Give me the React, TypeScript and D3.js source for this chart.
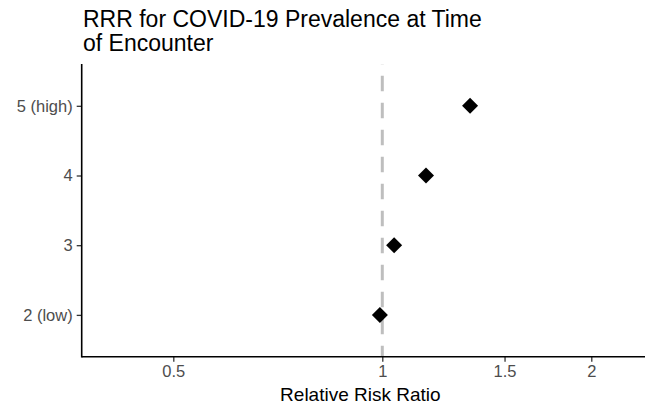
import React, { useEffect, useRef } from "react";
import * as d3 from "d3";

const levels = ["2 (low)", "3", "4", "5 (high)"];
const rrr = [0.992, 1.04, 1.156, 1.338];
const xTicks = [0.5, 1, 1.5, 2];
const titleLines = ["RRR for COVID-19 Prevalence at Time", "of Encounter"];

const W = 645;
const H = 405;
const FONT = "'Liberation Sans', Arial, sans-serif";

export default function App() {
  const ref = useRef<SVGSVGElement>(null);

  useEffect(() => {
    const svg = d3.select(ref.current);
    svg.selectAll("*").remove();

    const left = 81.7, right = 645, top = 64, bottom = 356.7;

    const x = d3.scaleLog().domain([0.369, 2.39]).range([left, right]);
    const y = d3.scalePoint<string>().domain(levels).range([bottom, top]).padding(0.6);

    // title
    const title = svg.append("text")
      .attr("x", 83)
      .attr("font-family", FONT)
      .attr("font-size", 23)
      .attr("fill", "#000");
    titleLines.forEach((t, i) => {
      title.append("tspan").attr("x", 83).attr("y", 27 + i * 24).text(t);
    });

    // reference line at 1
    svg.append("line")
      .attr("x1", x(1)).attr("x2", x(1))
      .attr("y1", bottom).attr("y2", top)
      .attr("stroke", "#bebebe")
      .attr("stroke-width", 3)
      .attr("stroke-dasharray", "15.5 11.5")
      .attr("stroke-dashoffset", 4.5);

    // x axis
    const gx = svg.append("g").attr("transform", `translate(0,${bottom})`)
      .call(d3.axisBottom(x).tickValues(xTicks).tickFormat(d3.format("")).tickSize(5).tickPadding(4) as any);
    gx.select(".domain").remove();
    gx.selectAll(".tick line").attr("stroke", "#333").attr("stroke-width", 1.3);
    gx.selectAll(".tick text")
      .attr("font-family", FONT).attr("font-size", 16.5).attr("fill", "#4d4d4d");

    // y axis
    const gy = svg.append("g").attr("transform", `translate(${left},0)`)
      .call(d3.axisLeft(y).tickSize(5).tickPadding(4) as any);
    gy.select(".domain").remove();
    gy.selectAll(".tick line").attr("stroke", "#333").attr("stroke-width", 1.3);
    gy.selectAll(".tick text")
      .attr("font-family", FONT).attr("font-size", 16.5).attr("fill", "#4d4d4d");

    // axis lines
    svg.append("line").attr("x1", left).attr("x2", right).attr("y1", bottom).attr("y2", bottom)
      .attr("stroke", "#000").attr("stroke-width", 1.6);
    svg.append("line").attr("x1", left).attr("x2", left).attr("y1", top).attr("y2", bottom + 0.8)
      .attr("stroke", "#000").attr("stroke-width", 1.6);

    // points
    const diamond = d3.symbol().type(d3.symbolSquare).size(128);
    svg.append("g").selectAll("path")
      .data(levels.map((l, i) => ({ l, v: rrr[i] })))
      .enter()
      .append("path")
      .attr("d", diamond as any)
      .attr("transform", d => `translate(${x(d.v)},${y(d.l)}) rotate(45)`)
      .attr("fill", "#000");

    // axis title
    svg.append("text")
      .attr("x", (left + right) / 2 - 3)
      .attr("y", 401)
      .attr("text-anchor", "middle")
      .attr("font-family", FONT)
      .attr("font-size", 19)
      .attr("fill", "#000")
      .text("Relative Risk Ratio");
  }, []);

  return (
    <svg ref={ref} width={W} height={H}
      style={{ position: "absolute", left: 0, top: 0, background: "#fff" }} />
  );
}
